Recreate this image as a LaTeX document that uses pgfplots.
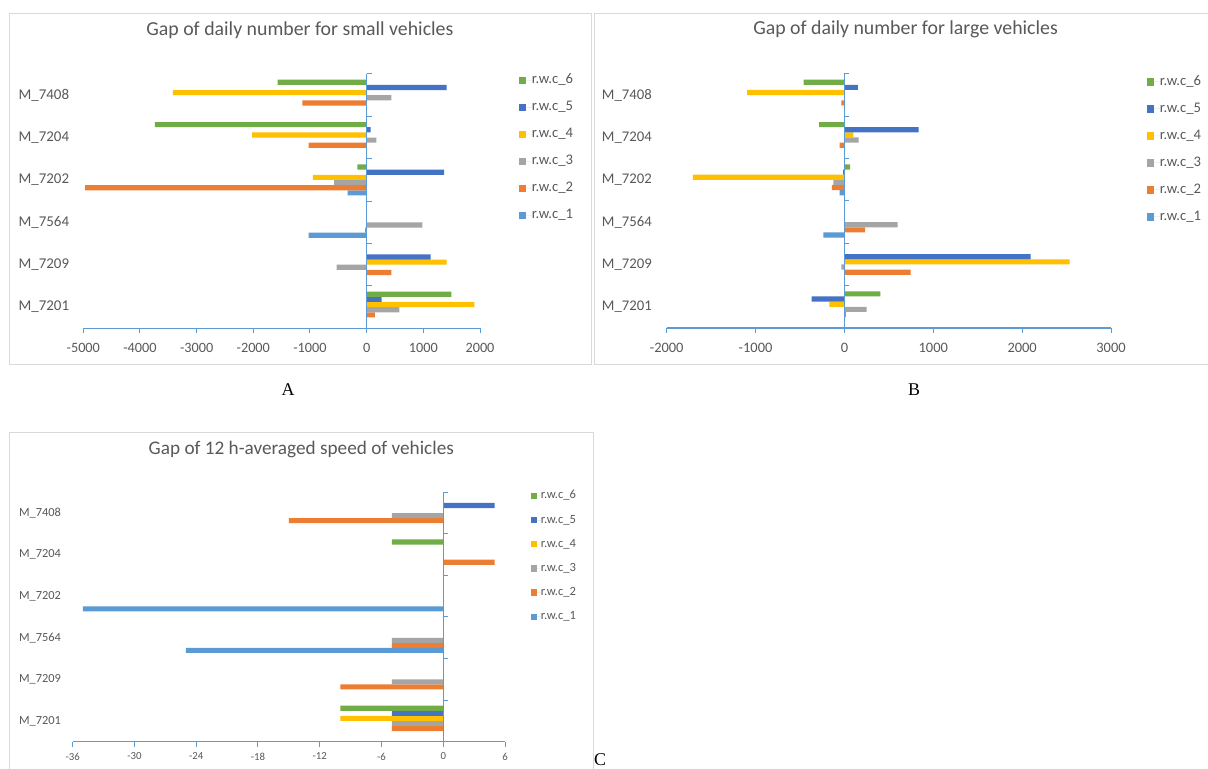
\documentclass[border=0pt]{standalone}
\usepackage{pgfplots}
\pgfplotsset{compat=1.18}
\usepackage{pgfplotstable}
\usepackage{fontspec}
\setmainfont{Carlito}
\newfontfamily\serif{Liberation Serif}
\definecolor{c1}{HTML}{5B9BD5}
\definecolor{c2}{HTML}{ED7D31}
\definecolor{c3}{HTML}{A5A5A5}
\definecolor{c4}{HTML}{FFC000}
\definecolor{c5}{HTML}{4472C4}
\definecolor{c6}{HTML}{70AD47}
\definecolor{axisblue}{HTML}{5B9BD5}
\definecolor{txt}{HTML}{595959}
\definecolor{frame}{HTML}{D9D9D9}

% y: 0=M_7201, 1=M_7209, 2=M_7564, 3=M_7202, 4=M_7204, 5=M_7408
\pgfplotstableread{
y r1 r2 r3 r4 r5 r6
0 0 147 576 1900 265 1495
1 0 435 -530 1410 1130 0
2 -1025 -25 985 0 0 0
3 -335 -4970 -575 -950 1365 -165
4 0 -1025 170 -2020 70 -3735
5 0 -1135 435 -3420 1410 -1570
}\tabA
\pgfplotstableread{
y r1 r2 r3 r4 r5 r6
0 0 15 250 -170 -370 405
1 0 745 -35 2535 2095 0
2 -237 233 600 0 0 0
3 -55 -140 -125 -1705 -15 65
4 0 -55 160 100 835 -285
5 0 -35 0 -1095 150 -460
}\tabB
\pgfplotstableread{
y r1 r2 r3 r4 r5 r6
0 0 -5 -5 -10 -5 -10
1 0 -10 -5 0 0 0
2 -25 -5 -5 0 0 0
3 -35 0 0 0 0 0
4 0 5 0 0 0 -5
5 0 -15 -5 0 5 0
}\tabC

\pgfplotsset{
 gapstyle/.style={
  scale only axis, clip=false,
  ymin=-0.5, ymax=5.5, ytick={0,...,5},
  yticklabels={M\_7201,M\_7209,M\_7564,M\_7202,M\_7204,M\_7408},
  axis x line*=bottom, axis y line*=left,
  x axis line style={draw=axisblue,line width=1.2bp,-},
  y axis line style={draw=none},
  ytick style={draw=none},
  xtick style={draw=axisblue,line width=1bp},
  tick align=outside,
  major tick length=5bp,
  scaled x ticks=false,
  every tick label/.append style={text=txt},
  yticklabel style={anchor=east, inner sep=0pt},
  xticklabel style={anchor=north, inner sep=0pt},
  reverse legend,
  legend cell align=left,
  legend style={draw=none, fill=none, inner sep=0pt, outer sep=0pt, anchor=north west, text=txt},
  title style={text=txt, anchor=base, inner sep=0pt},
 },
 mybar/.style={xbar, bar width=0.122, draw=none,
  legend image code/.code={\path (0bp,0bp) -- (13bp,0bp); \fill[##1,draw=none] (0bp,-3.75bp) rectangle (7.5bp,3.75bp);}},
 mybarC/.style={xbar, bar width=0.122, draw=none,
  legend image code/.code={\path (0bp,0bp) -- (10bp,0bp); \fill[##1,draw=none] (0bp,-3.25bp) rectangle (6.5bp,3.25bp);}},
}

\begin{document}
\begin{tikzpicture}
\useasboundingbox (0bp,0bp) rectangle (1208bp,769bp);
\fill[white] (0bp,0bp) rectangle (1208bp,769bp);
\draw[frame,line width=1bp] (9bp,404bp) rectangle (591bp,755bp);
\draw[frame,line width=1bp] (594bp,404bp) -- (594bp,755bp) -- (1210bp,755bp);
\draw[frame,line width=1bp] (594bp,404bp) -- (1210bp,404bp);
\draw[frame,line width=1bp] (9bp,-2bp) -- (9bp,336bp) -- (593bp,336bp) -- (593bp,-2bp);
\node[font=\serif\fontsize{18}{20}\selectfont, anchor=base] at (288bp,373bp) {A};
\node[font=\serif\fontsize{18}{20}\selectfont, anchor=base] at (914bp,373bp) {B};
\node[font=\serif\fontsize{18}{20}\selectfont, anchor=base] at (600bp,4bp) {C};

% ---------- A ----------
\begin{axis}[gapstyle,
  at={(83.3bp,440.7bp)}, anchor=south west, width=396.7bp, height=254.3bp,
  xmin=-5000, xmax=2000,
  xtick={-5000,-4000,-3000,-2000,-1000,0,1000,2000},
  xticklabels={-5000,-4000,-3000,-2000,-1000,0,1000,2000},
  xticklabel style={font=\fontsize{14.3}{16}\selectfont, yshift=-10bp},
  yticklabel style={font=\fontsize{15}{18}\selectfont, xshift=-9bp},
  title={Gap of daily number for small vehicles},
  title style={font=\fontsize{19.9}{22}\selectfont, at={(0.546,1.1298)}},
  legend style={at={(1.0983,1.0)}, font=\fontsize{14.7}{17}\selectfont,
    nodes={inner sep=0pt, text height=10bp, text depth=3bp}, row sep=14bp},
]
\addplot[mybar, fill=c1, bar shift=-0.305] table[x=r1,y=y]{\tabA};
\addplot[mybar, fill=c2, bar shift=-0.183] table[x=r2,y=y]{\tabA};
\addplot[mybar, fill=c3, bar shift=-0.061] table[x=r3,y=y]{\tabA};
\addplot[mybar, fill=c4, bar shift=0.061] table[x=r4,y=y]{\tabA};
\addplot[mybar, fill=c5, bar shift=0.183] table[x=r5,y=y]{\tabA};
\addplot[mybar, fill=c6, bar shift=0.305] table[x=r6,y=y]{\tabA};
\legend{r.w.c\_1,r.w.c\_2,r.w.c\_3,r.w.c\_4,r.w.c\_5,r.w.c\_6}
\draw[axisblue,line width=1.2bp] (axis cs:0,-0.5) -- (axis cs:0,5.5);
\pgfplotsinvokeforeach{-0.5,0.5,1.5,2.5,3.5,4.5,5.5}{\draw[axisblue,line width=1bp] (axis cs:0,#1) -- ++(5bp,0bp);}
\end{axis}

% ---------- B ----------
\begin{axis}[gapstyle,
  at={(666.7bp,441bp)}, anchor=south west, width=444.3bp, height=254bp,
  xmin=-2000, xmax=3000,
  xtick={-2000,-1000,0,1000,2000,3000},
  xticklabels={-2000,-1000,0,1000,2000,3000},
  xticklabel style={font=\fontsize{14.5}{16}\selectfont, yshift=-10bp},
  yticklabel style={font=\fontsize{14.8}{18}\selectfont, xshift=-9.7bp},
  title={Gap of daily number for large vehicles},
  title style={font=\fontsize{19.9}{22}\selectfont, at={(0.5375,1.131)}},
  legend style={at={(1.081,0.995)}, font=\fontsize{14.7}{17}\selectfont,
    nodes={inner sep=0pt, text height=10bp, text depth=3bp}, row sep=14bp},
]
\addplot[mybar, fill=c1, bar shift=-0.305] table[x=r1,y=y]{\tabB};
\addplot[mybar, fill=c2, bar shift=-0.183] table[x=r2,y=y]{\tabB};
\addplot[mybar, fill=c3, bar shift=-0.061] table[x=r3,y=y]{\tabB};
\addplot[mybar, fill=c4, bar shift=0.061] table[x=r4,y=y]{\tabB};
\addplot[mybar, fill=c5, bar shift=0.183] table[x=r5,y=y]{\tabB};
\addplot[mybar, fill=c6, bar shift=0.305] table[x=r6,y=y]{\tabB};
\legend{r.w.c\_1,r.w.c\_2,r.w.c\_3,r.w.c\_4,r.w.c\_5,r.w.c\_6}
\draw[axisblue,line width=1.2bp] (axis cs:0,-0.5) -- (axis cs:0,5.5);
\pgfplotsinvokeforeach{-0.5,0.5,1.5,2.5,3.5,4.5,5.5}{\draw[axisblue,line width=1bp] (axis cs:0,#1) -- ++(5bp,0bp);}
\end{axis}

% ---------- C ----------
\begin{axis}[gapstyle,
  at={(72.7bp,27.3bp)}, anchor=south west, width=432.3bp, height=249.4bp,
  xmin=-36, xmax=6,
  xtick={-36,-30,-24,-18,-12,-6,0,6},
  xticklabels={-36,-30,-24,-18,-12,-6,0,6},
  xticklabel style={font=\fontsize{10.8}{13}\selectfont, yshift=-6bp},
  yticklabel style={font=\fontsize{12.4}{15}\selectfont, xshift=-6.7bp},
  title={Gap of 12 h-averaged speed of vehicles},
  title style={font=\fontsize{19.3}{22}\selectfont, at={(0.5288,1.1267)}},
  legend style={at={(1.060,1.008)}, font=\fontsize{12.6}{15}\selectfont,
    nodes={inner sep=0pt, text height=8.5bp, text depth=2.5bp}, row sep=13.2bp},
]
\addplot[mybarC, fill=c1, bar shift=-0.305] table[x=r1,y=y]{\tabC};
\addplot[mybarC, fill=c2, bar shift=-0.183] table[x=r2,y=y]{\tabC};
\addplot[mybarC, fill=c3, bar shift=-0.061] table[x=r3,y=y]{\tabC};
\addplot[mybarC, fill=c4, bar shift=0.061] table[x=r4,y=y]{\tabC};
\addplot[mybarC, fill=c5, bar shift=0.183] table[x=r5,y=y]{\tabC};
\addplot[mybarC, fill=c6, bar shift=0.305] table[x=r6,y=y]{\tabC};
\legend{r.w.c\_1,r.w.c\_2,r.w.c\_3,r.w.c\_4,r.w.c\_5,r.w.c\_6}
\draw[axisblue,line width=1.2bp] (axis cs:0,-0.5) -- (axis cs:0,5.5);
\pgfplotsinvokeforeach{-0.5,0.5,1.5,2.5,3.5,4.5,5.5}{\draw[axisblue,line width=1bp] (axis cs:0,#1) -- ++(5bp,0bp);}
\end{axis}
\end{tikzpicture}
\end{document}
